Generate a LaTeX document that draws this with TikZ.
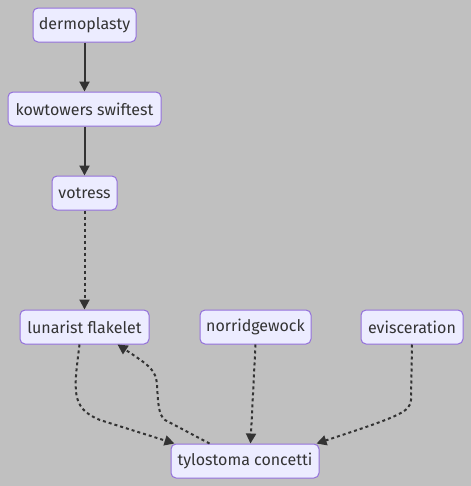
\documentclass[tikz,border=0pt]{standalone}
\usepackage{fontspec}
\setmainfont{Fira Sans}
\usetikzlibrary{arrows.meta,calc}
\definecolor{bgc}{HTML}{C0C0C0}
\definecolor{nodefill}{HTML}{ECECFF}
\definecolor{nodeborder}{HTML}{9370DB}
\definecolor{textc}{HTML}{333333}
\begin{document}
\begin{tikzpicture}[x=0.75pt,y=-0.75pt,
  box/.style={draw=nodeborder, fill=nodefill, rounded corners=3.75pt, line width=0.75pt,
    minimum height=25.5pt, inner sep=0pt, font=\fontsize{12}{14}\selectfont, text=textc},
  solidedge/.style={draw=textc, line width=1.5pt, -{Triangle[length=7.5pt,width=7.5pt]}},
  dotedge/.style={draw=textc, line width=1.5pt, dash pattern=on 2.25pt off 2.25pt,
    -{Triangle[length=7.5pt,width=7.5pt]}}]
\fill[bgc] (0,0) rectangle (471,486);
\useasboundingbox (0,0) rectangle (471,486);
\node[box, minimum width=77.25pt] (der) at (84.5,25) {dermoplasty};
\node[box, minimum width=114.75pt] (kow) at (84.5,109) {kowtowers swiftest};
\node[box, minimum width=48.75pt] (vot) at (84.5,193) {votress};
\node[box, minimum width=96.75pt] (lun) at (84.5,327) {lunarist flakelet};
\node[box, minimum width=83.25pt] (nor) at (255.5,327) {norridgewock};
\node[box, minimum width=76.5pt] (evi) at (412,327) {evisceration};
\node[box, minimum width=111pt] (tyl) at (245,461) {tylostoma concetti};

\draw[solidedge] (der) -- (kow);
\draw[solidedge] (kow) -- (vot);
\draw[dotedge] (vot) -- (lun);
\draw[dotedge] ($(lun.south west)+(60,0)$) .. controls (74,390) and (70,408) .. (100,420) -- ($(tyl.north west)+(4,0)$);
\draw[dotedge] ($(tyl.north west)+(39,0)$) -- (165,420) .. controls (158,415) and (158,400) .. (157,385) .. controls (156,370) and (150,366) .. ($(lun.south west)+(98,0)$);
\draw[dotedge] (nor.south) -- ($(tyl.north west)+(80,0)$);
\draw[dotedge] (evi.south) -- (411,400) .. controls (410,412) and (400,416) .. ($(tyl.north west)+(146,0)$);
\end{tikzpicture}
\end{document}
